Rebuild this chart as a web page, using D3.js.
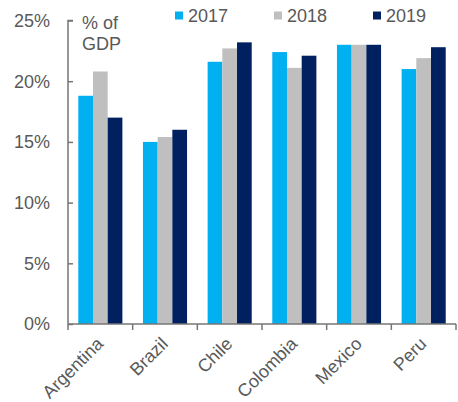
<!DOCTYPE html>
<html>
<head>
<meta charset="utf-8">
<script src="https://cdn.jsdelivr.net/npm/d3@7"></script>
<style>
  html, body { margin: 0; padding: 0; background: #fff; }
  svg text { font-family: "Liberation Sans", Arial, sans-serif; fill: #595959; }
</style>
</head>
<body>
<svg id="chart" width="458" height="402"></svg>
<script>
// Tax revenue as share of GDP, by country and year
const countries = ["Argentina", "Brazil", "Chile", "Colombia", "Mexico", "Peru"];
const years = ["2017", "2018", "2019"];
const values2017 = [18.8, 15.0, 21.6, 22.4, 23.0, 21.0];
const values2018 = [20.8, 15.4, 22.7, 21.1, 23.0, 21.9];
const values2019 = [17.0, 16.0, 23.2, 22.1, 23.0, 22.8];
const yTicks = [0, 5, 10, 15, 20, 25];
const colors = ["#00B0F0", "#BFBFBF", "#002060"];

const seriesValues = [values2017, values2018, values2019];

const svg = d3.select("#chart");
const margin = { left: 68, right: 2, top: 20.5, bottom: 78 };
const W = 458, H = 402;
const fontSize = 18;
const axisColor = "#767676";

const x = d3.scaleBand().domain(countries)
  .range([margin.left, W - margin.right]).paddingInner(0).paddingOuter(0);
const xs = d3.scaleBand().domain(years)
  .range([0, x.bandwidth()]).paddingInner(0).paddingOuter(0.7);
const y = d3.scaleLinear().domain([0, 25]).range([H - margin.bottom, margin.top]);

// Bars
const groups = svg.append("g").selectAll("g")
  .data(countries).join("g")
  .attr("transform", d => `translate(${x(d)},0)`);

groups.selectAll("rect")
  .data((c, i) => years.map((yr, j) => ({ yr, v: seriesValues[j][i], j })))
  .join("rect")
  .attr("x", d => xs(d.yr))
  .attr("width", xs.bandwidth())
  .attr("y", d => y(d.v))
  .attr("height", d => y(0) - y(d.v))
  .attr("fill", d => colors[d.j]);

// Y axis: ticks point inward
const yAxis = svg.append("g")
  .attr("transform", `translate(${margin.left},0)`)
  .call(d3.axisRight(y).tickValues(yTicks).tickSize(5).tickFormat(""));
yAxis.select(".domain").attr("stroke", axisColor).attr("stroke-width", 1.5)
  .attr("d", `M5,${y(25)}H0V${y(0)}`);
yAxis.selectAll(".tick line").attr("stroke", axisColor).attr("stroke-width", 1.5);

svg.append("g").selectAll("text")
  .data(yTicks).join("text")
  .attr("x", 50)
  .attr("y", d => y(d))
  .attr("dy", "0.36em")
  .attr("text-anchor", "end")
  .style("font-size", fontSize + "px")
  .text(d => d + "%");

// X axis: ticks at band edges, pointing down
const xEdges = countries.map(c => x(c)).concat([x(countries[countries.length - 1]) + x.bandwidth()]);
const xAxisG = svg.append("g");
xAxisG.append("line")
  .attr("x1", margin.left).attr("x2", W - margin.right)
  .attr("y1", y(0)).attr("y2", y(0))
  .attr("stroke", axisColor).attr("stroke-width", 1.5);
xAxisG.selectAll("line.tick").data(xEdges).join("line")
  .attr("class", "tick")
  .attr("x1", d => d).attr("x2", d => d)
  .attr("y1", y(0)).attr("y2", y(0) + 6)
  .attr("stroke", axisColor).attr("stroke-width", 1.5);

xAxisG.selectAll("text").data(countries).join("text")
  .attr("text-anchor", "end")
  .attr("transform", d => `translate(${x(d) + x.bandwidth() / 2 + 4},${y(0) + 21}) rotate(-45)`)
  .style("font-size", fontSize + "px")
  .text(d => d);

// Axis unit
const unit = svg.append("text")
  .attr("x", 82).attr("y", 29)
  .style("font-size", fontSize + "px");
unit.append("tspan").attr("x", 82).text("% of");
unit.append("tspan").attr("x", 82).attr("dy", 21).text("GDP");

// Legend
const legendX = [175, 274, 373];
const legend = svg.append("g").selectAll("g")
  .data(years).join("g")
  .attr("transform", (d, i) => `translate(${legendX[i]},11.5)`);
legend.append("rect").attr("width", 8).attr("height", 8)
  .attr("fill", (d, i) => colors[i]);
legend.append("text").attr("x", 13).attr("y", 10)
  .style("font-size", fontSize + "px")
  .text(d => d);
</script>
</body>
</html>
